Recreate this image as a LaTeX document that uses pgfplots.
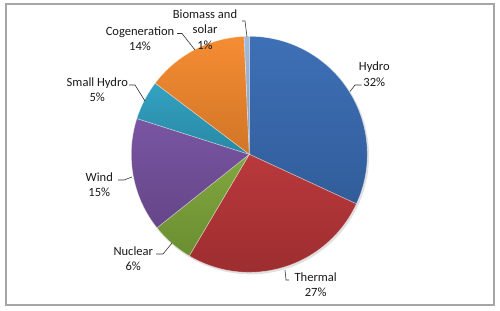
\documentclass[border=0pt]{standalone}
\usepackage{pgfplots}
\usepackage{pgfplotstable}
\pgfplotsset{compat=1.18}
\usepackage{fontspec}
\setmainfont{Carlito}
\definecolor{cHydro}{HTML}{3A6DB5}
\definecolor{cThermal}{HTML}{B83538}
\definecolor{cNuclear}{HTML}{7EA63A}
\definecolor{cWind}{HTML}{7752A0}
\definecolor{cSmall}{HTML}{2FA0C0}
\definecolor{cCogen}{HTML}{F58A2E}
\definecolor{cBio}{HTML}{A3B9D9}
\definecolor{frame}{HTML}{A6A6A6}
\pgfplotstableread{
name value
Hydro 31.9
Thermal 26.6
Nuclear 5.8
Wind 15.6
SmallHydro 5.4
Cogeneration 14.0
Biomass 0.7
}\pietable
\newcommand\nextangle[3]{\pgfplotstablegetelem{#1}{value}\of\pietable\pgfmathsetmacro#3{#2-3.6*\pgfplotsretval}}
\tikzset{lab/.style={font=\fontsize{12.6}{15.3}\selectfont, text=black!90, align=center, inner sep=0pt}}
\begin{document}
\begin{tikzpicture}
\pgfmathsetmacro\aO{90}
\nextangle{0}{\aO}{\aA}
\nextangle{1}{\aA}{\aB}
\nextangle{2}{\aB}{\aC}
\nextangle{3}{\aC}{\aD}
\nextangle{4}{\aD}{\aE}
\nextangle{5}{\aE}{\aF}
\nextangle{6}{\aF}{\aG}
\begin{axis}[
  width=500bp, height=310bp, scale only axis,
  xmin=0, xmax=500, ymin=0, ymax=310, y dir=reverse,
  hide axis, clip=false,
]
\addplot[draw=none] coordinates {(0,0) (500,310)};
\draw[frame, line width=1.1bp] (axis cs:6,4) rectangle (axis cs:494,305);
% shadow
\fill[black, opacity=0.12] (axis cs:250.5,155.8) circle[radius=118.5bp];
\newcommand\slice[3]{%
  \shade[top color=#1!98!white, bottom color=#1!85!black, draw=white, draw opacity=0.45, line width=0.6bp]
   (axis cs:249.3,154.3) -- ++(#2:118bp) arc[start angle=#2, end angle=#3, radius=118bp] -- cycle;}
\slice{cHydro}{\aO}{\aA}
\slice{cThermal}{\aA}{\aB}
\slice{cNuclear}{\aB}{\aC}
\slice{cWind}{\aC}{\aD}
\slice{cSmall}{\aD}{\aE}
\slice{cCogen}{\aE}{\aF}
\slice{cBio}{\aF}{\aG}
% labels
\node[lab] at (axis cs:205,29.5) {Biomass and\\solar\\1\%};
\node[lab] at (axis cs:140,38.5) {Cogeneration\\14\%};
\node[lab] at (axis cs:97.3,89.5) {Small Hydro\\5\%};
\node[lab] at (axis cs:99.3,185) {Wind\\15\%};
\node[lab] at (axis cs:133.3,259) {Nuclear\\6\%};
\node[lab] at (axis cs:315.7,284.5) {Thermal\\27\%};
\node[lab] at (axis cs:374.3,74.3) {Hydro\\32\%};
% leader lines
\draw[black!80, line width=0.6bp] (axis cs:242,21) -- (axis cs:245,21) -- (axis cs:247,37);
\draw[black!80, line width=0.6bp] (axis cs:177,33.5) -- (axis cs:182,33.5) -- (axis cs:195,50);
\draw[black!80, line width=0.6bp] (axis cs:129,85) -- (axis cs:135,85) -- (axis cs:145,101);
\draw[black!80, line width=0.6bp] (axis cs:118,180) -- (axis cs:124,180) -- (axis cs:132,177);
\draw[black!80, line width=0.6bp] (axis cs:156,254) -- (axis cs:163,254) -- (axis cs:172,243);
\draw[black!80, line width=0.6bp] (axis cs:289,280) -- (axis cs:286,280) -- (axis cs:285,270);
\draw[black!80, line width=0.6bp] (axis cs:361.5,85) -- (axis cs:355,85) -- (axis cs:350,91.5);
\end{axis}
\end{tikzpicture}
\end{document}
